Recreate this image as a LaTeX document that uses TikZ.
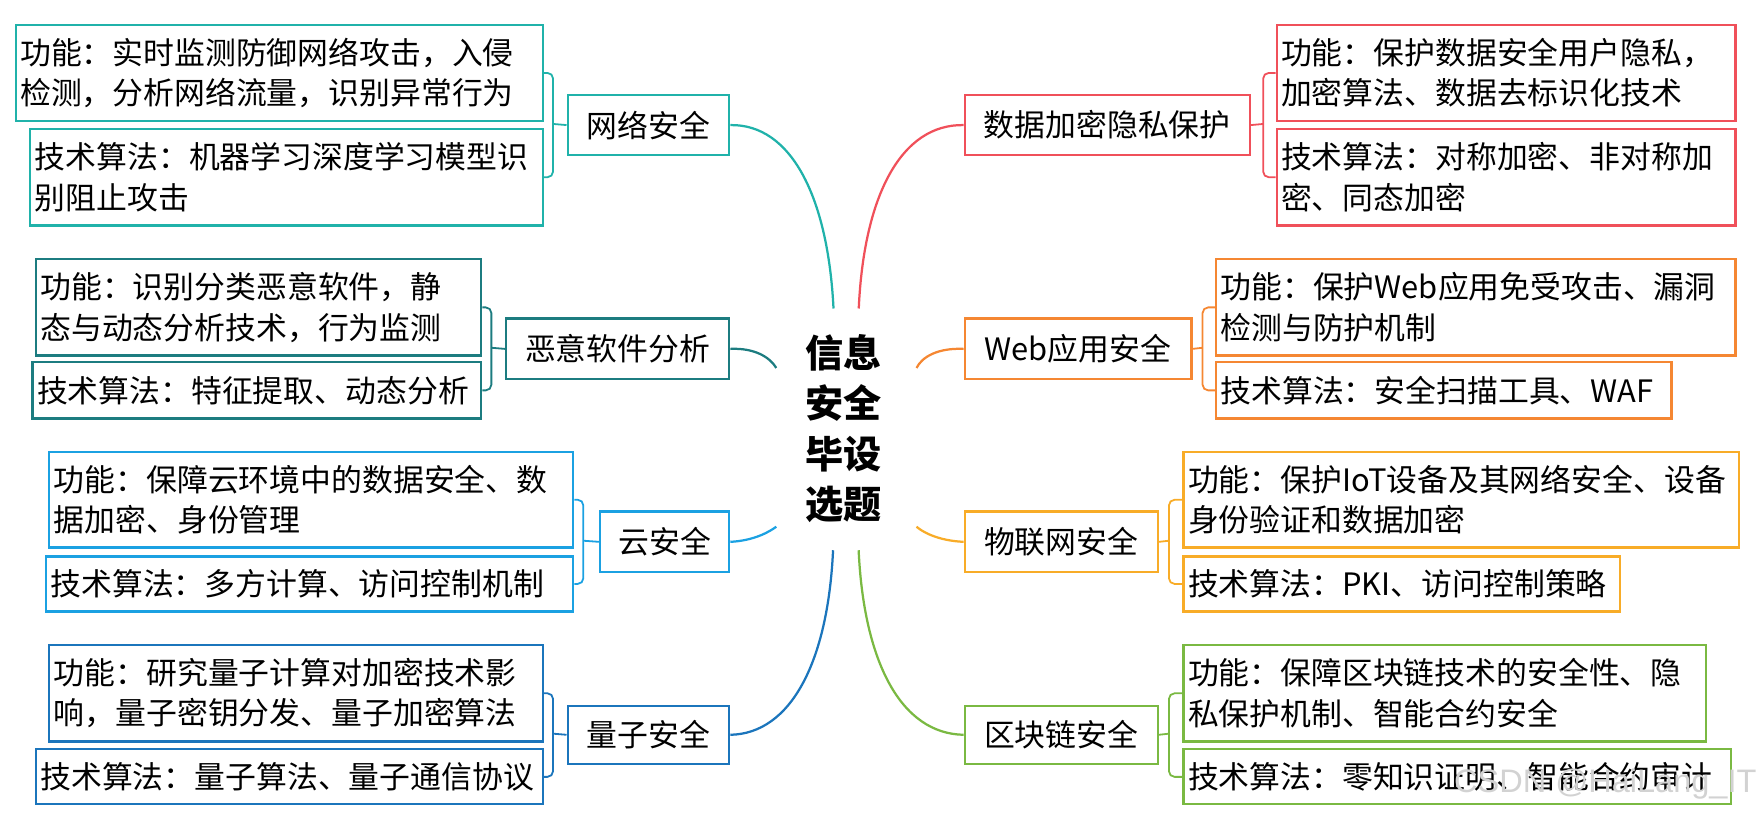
\documentclass[tikz,border=0pt]{standalone}
\usepackage{fontspec}
\setmainfont{Noto Sans CJK SC}
\newfontfamily\wmfont{Liberation Sans}
\definecolor{cNet}{HTML}{20B2AA}
\definecolor{cMal}{HTML}{1C7C80}
\definecolor{cCld}{HTML}{1BA1E2}
\definecolor{cQua}{HTML}{1B75BC}
\definecolor{cDat}{HTML}{F0505A}
\definecolor{cWeb}{HTML}{F58732}
\definecolor{cIot}{HTML}{F8AC28}
\definecolor{cBlk}{HTML}{7AB942}
\begin{document}
\begin{tikzpicture}[x=1pt,y=-1pt,
  leaf/.style={draw=#1, line width=2pt, anchor=north west, align=left, inner xsep=4pt, inner ysep=0pt, font=\fontsize{27.5pt}{36pt}\selectfont},
  topic/.style={draw=#1, line width=2pt, anchor=north west, align=center, inner sep=0pt, font=\fontsize{27.5pt}{36pt}\selectfont},
  link/.style={draw=#1, line width=2pt},
  brace/.style={draw=#1, line width=1.6pt, rounded corners=5pt}]
\useasboundingbox (0,0) rectangle (1568,730);

% ---------- left side ----------
\node[leaf=cNet, text width=462pt, minimum height=86pt] (NF) at (13,21) {功能：实时监测防御网络攻击，入侵\\检测，分析网络流量，识别异常行为};
\node[leaf=cNet, text width=449pt, minimum height=86pt] (NT) at (26,114) {技术算法：机器学习深度学习模型识\\别阻止攻击};
\node[topic=cNet, minimum width=144pt, minimum height=53pt] (NM) at (505,84) {网络安全};

\node[leaf=cMal, text width=389pt, minimum height=86pt] (MF) at (31,230) {功能：识别分类恶意软件，静\\态与动态分析技术，行为监测};
\node[leaf=cMal, text width=392pt, minimum height=50pt] (MT) at (28,322) {技术算法：特征提取、动态分析};
\node[topic=cMal, minimum width=199pt, minimum height=54pt] (MM) at (450,283) {恶意软件分析};

\node[leaf=cCld, text width=459pt, minimum height=85pt] (CF) at (43,402) {功能：保障云环境中的数据安全、数\\据加密、身份管理};
\node[leaf=cCld, text width=462pt, minimum height=49pt] (CT) at (40,495) {技术算法：多方计算、访问控制机制};
\node[topic=cCld, minimum width=115pt, minimum height=54pt] (CM) at (534,455) {云安全};

\node[leaf=cQua, text width=432pt, minimum height=86pt] (QF) at (43,574) {功能：研究量子计算对加密技术影\\响，量子密钥分发、量子加密算法};
\node[leaf=cQua, text width=444pt, minimum height=49pt] (QT) at (31,667) {技术算法：量子算法、量子通信协议};
\node[topic=cQua, minimum width=144pt, minimum height=52pt] (QM) at (505,628) {量子安全};

% ---------- right side ----------
\node[topic=cDat, minimum width=254pt, minimum height=53pt] (DM) at (859,84) {数据加密隐私保护};
\node[leaf=cDat, text width=401pt, minimum height=86pt] (DF) at (1137,21) {功能：保护数据安全用户隐私，\\加密算法、数据去标识化技术};
\node[leaf=cDat, text width=401pt, minimum height=86pt] (DT) at (1137,114) {技术算法：对称加密、非对称加\\密、同态加密};

\node[topic=cWeb, minimum width=202pt, minimum height=54pt] (WM) at (859,283) {Web应用安全};
\node[leaf=cWeb, text width=455pt, minimum height=86pt] (WF) at (1083,230) {功能：保护Web应用免受攻击、漏洞\\检测与防护机制};
\node[leaf=cWeb, text width=398pt, minimum height=50pt] (WT) at (1083,322) {技术算法：安全扫描工具、WAF};

\node[topic=cIot, minimum width=172pt, minimum height=54pt] (IM) at (859,455) {物联网安全};
\node[leaf=cIot, text width=487pt, minimum height=85pt] (IF) at (1054,402) {功能：保护IoT设备及其网络安全、设备\\身份验证和数据加密};
\node[leaf=cIot, text width=381pt, minimum height=49pt] (IT) at (1054,495) {技术算法：PKI、访问控制策略};

\node[topic=cBlk, minimum width=172pt, minimum height=52pt] (BM) at (859,628) {区块链安全};
\node[leaf=cBlk, text width=458pt, minimum height=86pt] (BF) at (1054,574) {功能：保障区块链技术的安全性、隐\\私保护机制、智能合约安全};
\node[leaf=cBlk, text width=480pt, minimum height=49pt] (BT) at (1054,667) {技术算法：零知识证明、智能合约审计};

% ---------- centre ----------
\node[font=\fontsize{34pt}{45pt}\selectfont\bfseries, align=center, inner sep=0pt] (root) at (752,382) {信息\\安全\\毕设\\选题};

% ---------- brackets ----------
\coordinate (nbN) at (493,110.5);
\coordinate (nbM) at (438,310);
\coordinate (nbC) at (520,482);
\coordinate (nbQ) at (493,654);
\coordinate (nbD) at (1126,110.5);
\coordinate (nbW) at (1072,310);
\coordinate (nbI) at (1042,482);
\coordinate (nbB) at (1042,654);

\draw[brace=cNet] (NF.east) -| (nbN) |- (NT.east);
\draw[brace=cNet] (nbN) -- (NM.west);
\draw[brace=cMal] (MF.east) -| (nbM) |- (MT.east);
\draw[brace=cMal] (nbM) -- (MM.west);
\draw[brace=cCld] (CF.east) -| (nbC) |- (CT.east);
\draw[brace=cCld] (nbC) -- (CM.west);
\draw[brace=cQua] (QF.east) -| (nbQ) |- (QT.east);
\draw[brace=cQua] (nbQ) -- (QM.west);
\draw[brace=cDat] (DF.west) -| (nbD) |- (DT.west);
\draw[brace=cDat] (nbD) -- (DM.east);
\draw[brace=cWeb] (WF.west) -| (nbW) |- (WT.west);
\draw[brace=cWeb] (nbW) -- (WM.east);
\draw[brace=cIot] (IF.west) -| (nbI) |- (IT.west);
\draw[brace=cIot] (nbI) -- (IM.east);
\draw[brace=cBlk] (BF.west) -| (nbB) |- (BT.west);
\draw[brace=cBlk] (nbB) -- (BM.east);

% ---------- connectors to centre ----------
\coordinate (eNet) at (743,275);
\coordinate (eMal) at (692,328);
\coordinate (eCld) at (692,469.5);
\coordinate (eQua) at (742.6,490.5);
\coordinate (eDat) at (765.5,275);
\coordinate (eWeb) at (817,328);
\coordinate (eIot) at (817,469.5);
\coordinate (eBlk) at (765.4,490.5);

\draw[link=cNet] (NM.east) .. controls (705,110.5) and (738,175) .. (eNet);
\draw[link=cMal] (MM.east) .. controls (672,310) and (686,318) .. (eMal);
\draw[link=cCld] (CM.east) .. controls (672,482) and (686,474) .. (eCld);
\draw[link=cQua] (QM.east) .. controls (705,654) and (738,590) .. (eQua);
\draw[link=cDat] (DM.west) .. controls (803,110.5) and (770,175) .. (eDat);
\draw[link=cWeb] (WM.west) .. controls (836,310) and (822,318) .. (eWeb);
\draw[link=cIot] (IM.west) .. controls (836,482) and (822,474) .. (eIot);
\draw[link=cBlk] (BM.west) .. controls (803,654) and (770,590) .. (eBlk);

% ---------- watermark ----------
\node[font=\wmfont\fontsize{29pt}{32pt}\selectfont, text=gray!35] (wm) at (1431,699) {CSDN @HaiLang\_IT};
\end{tikzpicture}
\end{document}
